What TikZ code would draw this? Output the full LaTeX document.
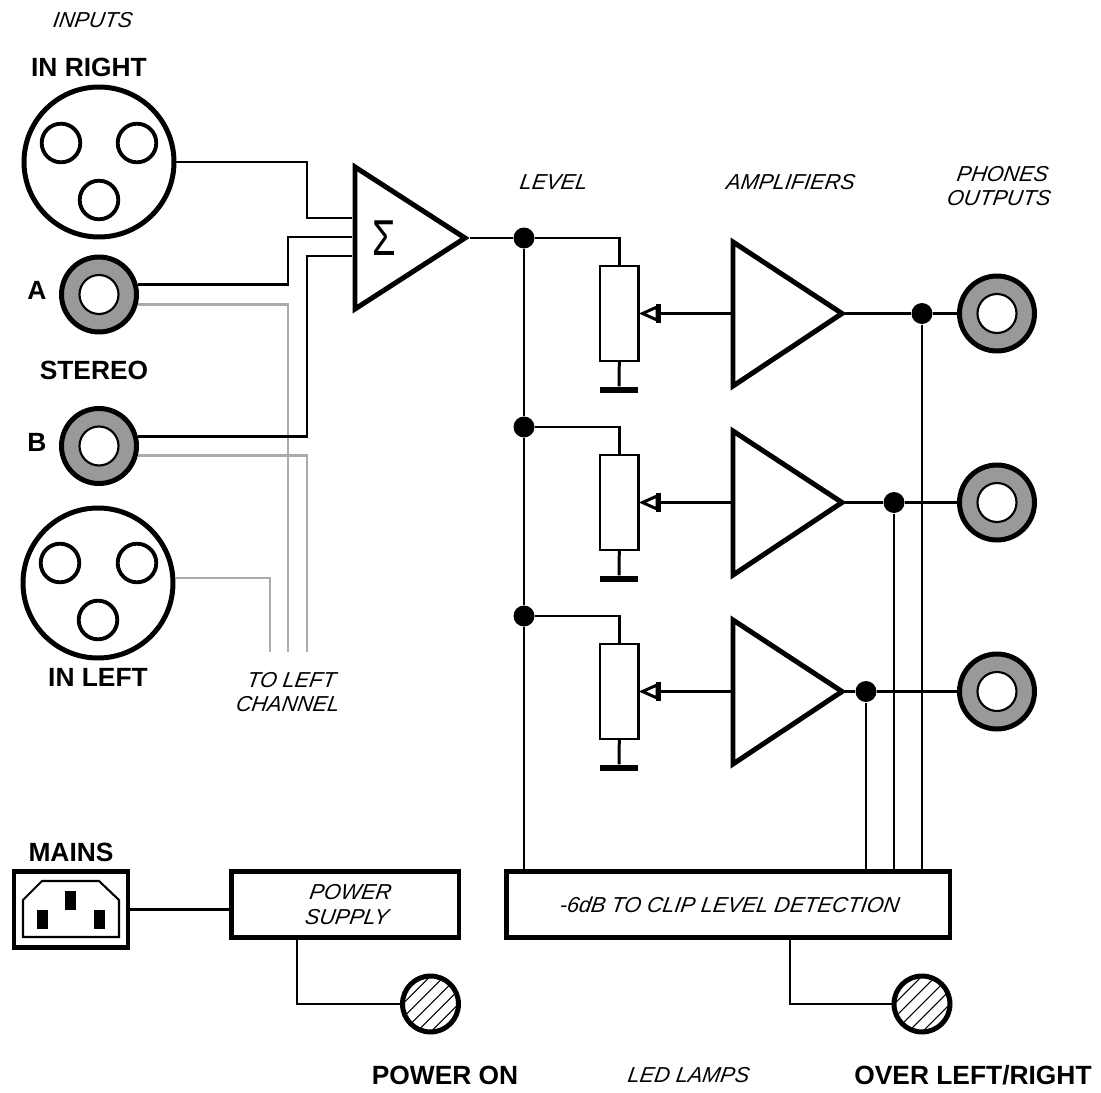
\documentclass[tikz,border=0pt]{standalone}
\usepackage{fontspec}
\setmainfont{Liberation Sans}
\newfontfamily\sigmafont{Liberation Mono}
\usepackage{tikz}
\usetikzlibrary{calc}
\usepackage{xcolor}
\definecolor{jackgray}{HTML}{999999}
\definecolor{leadgray}{HTML}{ABABAB}

\begin{document}
\begin{tikzpicture}[x=0.1mm, y=-0.1mm,
    every node/.style={inner sep=0pt, align=center},
    wire/.style={line width=0.85pt},
    leftwire/.style={line width=0.85pt, color=leadgray},
    bold/.style={font=\fontsize{7.5}{9}\selectfont\bfseries},
    ital/.style={font=\fontsize{6.15}{7}\selectfont\itshape, xslant=0.15, transform shape},
    xlrbody/.style={circle, draw, line width=1.42pt, minimum size=15mm},
    xlrpin/.style={circle, draw, line width=1.1pt, minimum size=3.86mm},
    jackbody/.style={circle, draw, fill=jackgray, line width=1.42pt, minimum size=7.5mm},
    jackhole/.style={circle, draw, fill=white, line width=0.6pt, minimum size=3.9mm},
    junction/.style={circle, fill=black, minimum size=2.1mm},
    potbody/.style={draw, line width=0.7pt, minimum width=3.85mm, minimum height=9.5mm},
    gndbar/.style={fill=black, minimum width=3.8mm, minimum height=0.6mm},
    heavybox/.style={draw, line width=1.42pt},
    ledlamp/.style={circle, draw, fill=white, line width=1.42pt, minimum size=5.6mm,
        path picture={
            \foreach \d in {-42,-28,...,42}
                \draw[line width=0.3pt] ($(path picture bounding box.center)+(\d-40,40)$) -- ++(80,-80);
        }},
    thickline/.style={line width=1.42pt, line join=miter}]

    \useasboundingbox (0,0) rectangle (1101,1093);

    % Input connectors
    \node[xlrbody] (inright) at (99,162) {};
    \node[xlrpin] at (61,143) (inrightp1) {};
    \node[xlrpin] at (137,143) (inrightp2) {};
    \node[xlrpin] at (99,200) (inrightp3) {};

    \node[xlrbody] (inleft) at (98,583) {};
    \node[xlrpin] at (60,563) (inleftp1) {};
    \node[xlrpin] at (137,563) (inleftp2) {};
    \node[xlrpin] at (98,620) (inleftp3) {};

    \node[jackbody] (jacka) at (99,294.5) {};
    \node[jackhole] (holea) at (99,294.5) {};
    \node[jackbody] (jackb) at (99,446) {};
    \node[jackhole] (holeb) at (99,446) {};

    % Input labels
    \node[ital] (inputslabel) at (93,20) {INPUTS};
    \node[bold] (inrightlabel) at (89,67) {IN RIGHT};
    \node[bold] (alabel) at (37,290) {A};
    \node[bold] (stereolabel) at (94,370) {STEREO};
    \node[bold] (blabel) at (37,442) {B};
    \node[bold] (inleftlabel) at (98,677) {IN LEFT};
    \node[ital] (tolabel) at (290,692) {TO LEFT\\CHANNEL};

    % Summing amplifier
    \draw[thickline] (355,167) -- (355,309) -- (465,238) -- cycle;
    \node[font=\fontsize{15}{15}\selectfont\sigmafont, xscale=0.72, transform shape] (sigma) at (383.5,238) {Σ};
    \coordinate (suma) at (352,218);
    \coordinate (sumb) at (352,237);
    \coordinate (sumc) at (352,256);
    \coordinate (sumout) at (470,238);

    % Feeds to the left channel go under the black ones
    \coordinate (tolefta) at (288,652);
    \coordinate (toleftb) at (307,652);
    \coordinate (toleftc) at (270,652);
    \draw[leftwire] (jacka.-14) -| (tolefta);
    \draw[leftwire] (jackb.-14) -| (toleftb);
    \draw[leftwire] (inleft.east) ++(0,-5) -| (toleftc);

    % Feeds to the summing amplifier
    \coordinate (kneer) at (307,218);
    \coordinate (kneea) at (288,237);
    \coordinate (kneeb) at (307,256);
    \draw[wire] (inright.east) -| (kneer) -- (suma);
    \draw[wire] (jacka.14) -| (kneea) -- (sumb);
    \draw[wire] (jackb.14) -| (kneeb) -- (sumc);

    % Detection box and bottom row
    \node[heavybox, minimum width=44.35mm, minimum height=6.6mm] (detect) at (728.25,904.5) {};
    \node[ital] (detectlabel) at (730,905) {-6dB TO CLIP LEVEL DETECTION};

    % Three channels
    \foreach \row/\ox in {0/922,1/894,2/866} {
        \pgfmathsetmacro{\dy}{\row * 189}

        % Level pot with ground
        \node[junction] (tap\row) at (524,238+\dy) {};
        \node[potbody] (pot\row) at (619.3,313.5+\dy) {};
        \node[gndbar] (gnd\row) at (619,390+\dy) {};
        \draw[wire] (tap\row) -| (pot\row.north);
        \draw[wire] (pot\row.south) -- (gnd\row.north);

        % Wiper
        \coordinate (wiper\row) at (659,313.5+\dy);
        \draw[line width=0.85pt] (642.5,313.5+\dy) -- (657,307+\dy) -- (657,320+\dy) -- cycle;
        \fill (656,304+\dy) rectangle (661,323+\dy);

        % Amplifier
        \draw[thickline] (733,242+\dy) -- (733,386+\dy) -- (842,313.5+\dy) -- cycle;
        \coordinate (ampin\row) at (733,313.5+\dy);
        \coordinate (ampout\row) at (845,313.5+\dy);
        \draw[wire] (wiper\row) -- (ampin\row);

        % Output jack
        \node[jackbody] (out\row) at (997,313.5+\dy) {};
        \node[jackhole] (outhole\row) at (997,313.5+\dy) {};
        \node[junction] (sense\row) at (\ox,313.5+\dy) {};
        \draw[wire] (ampout\row) -- (sense\row) -- (out\row);
        \draw[wire] (sense\row) -- (sense\row |- detect.north);
    }

    % Level bus
    \draw[wire] (sumout) -- (tap0);
    \draw[wire] (tap0) -- (tap1) -- (tap2) -- (tap2 |- detect.north);

    % Top labels
    \node[ital] (levellabel) at (554,182) {LEVEL};
    \node[ital] (ampslabel) at (791,182) {AMPLIFIERS};
    \node[ital] (phoneslabel) at (1001,186) {PHONES\\OUTPUTS};

    % Mains and supply
    \node[heavybox, minimum width=11.4mm, minimum height=7.6mm] (mains) at (71,909.5) {};
    \draw[line width=0.6pt] (23,937) -- (23,900) -- (42,881) -- (99,881) -- (119,900) -- (119,937) -- cycle;
    \fill (37,910) rectangle (48,929);
    \fill (65,891) rectangle (76,910);
    \fill (94,910) rectangle (105,929);
    \node[bold] (mainslabel) at (71,852) {MAINS};

    \node[heavybox, minimum width=22.75mm, minimum height=6.6mm] (psu) at (345.25,904.5) {};
    \node[ital] (psulabel) at (349,904.5) {POWER\\SUPPLY};
    \draw[wire] (mains.east) -- (mains.east -| psu.west);

    % LED lamps
    \node[ledlamp] (ledpower) at (430.5,1004) {};
    \node[ledlamp] (ledover) at (922,1004) {};
    \coordinate (psutap) at (297,938);
    \coordinate (detecttap) at (790,938);
    \draw[wire] (psutap) |- (ledpower);
    \draw[wire] (detecttap) |- (ledover);

    \node[bold] (poweronlabel) at (445,1075) {POWER ON};
    \node[ital] (lampslabel) at (689,1075) {LED LAMPS};
    \node[bold] (overlabel) at (973,1075) {OVER LEFT/RIGHT};
\end{tikzpicture}
\end{document}
